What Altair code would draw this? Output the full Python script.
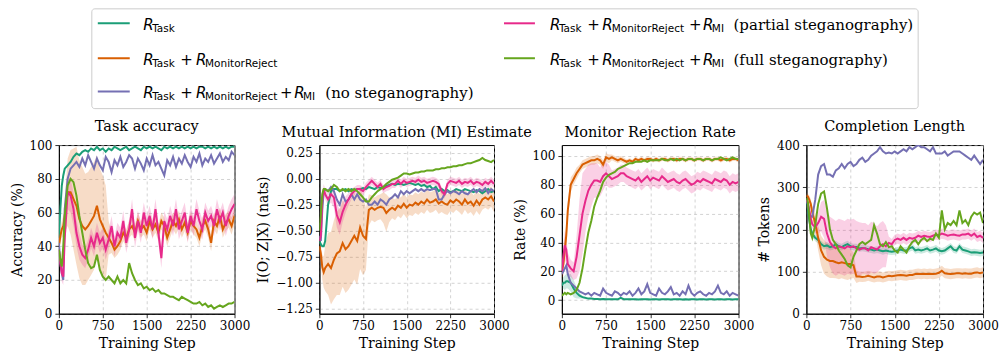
import altair as alt
import pandas as pd

# ---------------- data ----------------
STEPS = [0, 25, 50, 75] + list(range(100, 3001, 50))
X_TICKS = [0, 750, 1500, 2250, 3000]

SERIES = ["R_Task", "R_Task + R_MonitorReject", "R_Task + R_MonitorReject + R_MI (no steganography)",
          "R_Task + R_MonitorReject + R_MI (partial steganography)",
          "R_Task + R_MonitorReject + R_MI (full steganography)"]
COLORS = ["#1b9e77", "#d95f02", "#7570b3", "#e7298a", "#66a61e"]

PANEL_TITLES = ["Task accuracy", "Mutual Information (MI) Estimate", "Monitor Rejection Rate", "Completion Length"]
Y_TITLES = ["Accuracy (%)", "I(O; Z|X) (nats)", "Rate (%)", "# Tokens"]
X_TITLE = "Training Step"
Y_TICKS_ACC = [0, 20, 40, 60, 80, 100]
Y_TICKS_MI = [-1.25, -1.0, -0.75, -0.5, -0.25, 0.0, 0.25]
Y_TICKS_MON = [0, 20, 40, 60, 80, 100]
Y_TICKS_LEN = [0, 100, 200, 300, 400]

# ---- Task accuracy ----
ACC_TASK = [
    45, 62, 76, 82,
    86, 88, 90, 93, 95, 94, 96, 97, 96, 98,
    97, 99, 97, 98, 96, 98, 97, 99, 98, 97,
    98, 99, 97, 98, 99, 98, 97, 99, 98, 99,
    98, 99, 98, 97, 99, 98, 99, 98, 99, 98,
    99, 98, 99, 98, 99, 98, 99, 99, 98, 99,
    98, 99, 98, 99, 98, 99, 98, 99, 99]
ACC_MONITOR = [
    40, 46, 50, 52,
    58, 72, 72, 68, 64, 56, 52, 50, 52, 55,
    58, 64, 56, 52, 48, 45, 42, 38, 40, 43,
    48, 45, 50, 52, 48, 55, 50, 52, 48, 55,
    50, 53, 48, 55, 52, 45, 50, 55, 52, 56,
    50, 54, 48, 55, 52, 50, 45, 52, 55, 50,
    42, 55, 52, 58, 50, 54, 56, 52, 58]
ACC_NONE = [
    42, 30, 24, 20,
    62, 80, 86, 88, 90, 87, 92, 88, 94, 90,
    86, 92, 88, 85, 93, 90, 84, 91, 88, 93,
    87, 90, 94, 92, 86, 92, 89, 85, 92, 88,
    94, 88, 90, 86, 82, 91, 88, 93, 87, 92,
    89, 94, 90, 87, 93, 90, 95, 88, 92, 90,
    94, 89, 92, 95, 90, 93, 91, 96, 94]
ACC_PARTIAL = [
    38, 30, 24, 22,
    45, 72, 70, 62, 48, 40, 35, 33, 38, 45,
    40, 48, 42, 45, 38, 44, 52, 40, 48, 45,
    55, 42, 50, 62, 45, 55, 48, 60, 52, 58,
    50, 62, 48, 33, 55, 50, 58, 52, 62, 50,
    55, 60, 48, 58, 52, 62, 55, 50, 60, 55,
    58, 52, 62, 55, 60, 52, 58, 62, 65]
ACC_FULL = [
    38, 32, 28, 40,
    58, 76, 80, 78, 70, 58, 48, 38, 30, 27,
    28, 35, 26, 22, 20, 22, 20, 18, 22, 18,
    20, 18, 30, 24, 20, 17, 18, 15, 16, 14,
    15, 13, 14, 12, 12, 11, 10, 10, 9, 8,
    10, 9, 8, 7, 6, 6, 7, 5, 6, 4,
    5, 3, 4, 5, 4, 5, 6, 6, 7]
ACC_MONITOR_SPREAD = [
    3, 4, 5, 6,
    10, 20, 25, 30, 35, 35, 35, 33, 32, 32,
    32, 30, 30, 30, 28, 10, 6, 5, 5, 5,
    5, 5, 5, 5, 5, 5, 5, 5, 5, 5,
    5, 5, 5, 5, 5, 5, 5, 5, 5, 5,
    5, 5, 5, 5, 5, 5, 5, 5, 5, 5,
    5, 5, 5, 5, 5, 5, 5, 5, 5]
ACC_PARTIAL_SPREAD = [
    3, 4, 5, 5,
    8, 10, 10, 10, 8, 8, 6, 6, 6, 6,
    6, 6, 6, 6, 6, 6, 6, 6, 6, 6,
    6, 6, 6, 6, 6, 6, 6, 6, 6, 6,
    6, 6, 6, 6, 6, 6, 6, 6, 6, 6,
    6, 6, 6, 6, 6, 6, 6, 6, 6, 6,
    6, 6, 6, 6, 6, 6, 6, 6, 6]

# ---- Mutual information ----
MI_TASK = [
    -0.60, -0.63, -0.65, -0.65,
    -0.60, -0.25, -0.12, -0.10, -0.10, -0.12, -0.11, -0.10, -0.12, -0.10,
    -0.11, -0.10, -0.10, -0.09, -0.10, -0.08, -0.09, -0.10, -0.08, -0.09,
    -0.08, -0.07, -0.06, -0.05, -0.06, -0.05, -0.05, -0.06, -0.05, -0.04,
    -0.05, -0.06, -0.05, -0.07, -0.06, -0.08, -0.07, -0.10, -0.08, -0.12,
    -0.10, -0.12, -0.11, -0.13, -0.12, -0.10, -0.11, -0.12, -0.10, -0.11,
    -0.12, -0.13, -0.11, -0.12, -0.14, -0.12, -0.10, -0.13, -0.12]
MI_MONITOR = [
    -0.65, -0.72, -0.85, -0.90,
    -0.86, -0.82, -0.86, -0.78, -0.72, -0.70, -0.62, -0.68, -0.65, -0.60,
    -0.55, -0.60, -0.47, -0.55, -0.58, -0.30, -0.28, -0.30, -0.28, -0.27,
    -0.28, -0.33, -0.30, -0.28, -0.30, -0.26, -0.28, -0.24, -0.28, -0.25,
    -0.26, -0.23, -0.25, -0.22, -0.24, -0.20, -0.23, -0.22, -0.20, -0.24,
    -0.22, -0.24, -0.25, -0.21, -0.23, -0.20, -0.22, -0.25, -0.20, -0.24,
    -0.22, -0.26, -0.21, -0.25, -0.20, -0.18, -0.20, -0.17, -0.22]
MI_NONE = [
    -0.55, -0.60, -0.30, -0.12,
    -0.10, -0.12, -0.08, -0.12, -0.20, -0.25, -0.15, -0.22, -0.20, -0.15,
    -0.20, -0.15, -0.20, -0.22, -0.20, -0.25, -0.25, -0.22, -0.25, -0.20,
    -0.22, -0.25, -0.20, -0.18, -0.15, -0.18, -0.12, -0.15, -0.12, -0.14,
    -0.12, -0.10, -0.12, -0.10, -0.12, -0.10, -0.11, -0.10, -0.10, -0.20,
    -0.20, -0.15, -0.12, -0.14, -0.12, -0.13, -0.15, -0.12, -0.14, -0.15,
    -0.12, -0.10, -0.13, -0.10, -0.12, -0.09, -0.14, -0.10, -0.12]
MI_PARTIAL = [
    -0.60, -0.55, -0.20, -0.10,
    -0.15, -0.20, -0.15, -0.18, -0.35, -0.42, -0.32, -0.25, -0.20, -0.15,
    -0.12, -0.10, -0.10, -0.12, -0.08, -0.05, -0.02, -0.05, -0.08, -0.05,
    -0.10, -0.08, -0.07, -0.05, -0.05, -0.02, -0.05, -0.02, -0.04, -0.03,
    -0.02, -0.03, -0.01, -0.03, -0.02, -0.04, -0.03, -0.02, -0.03, -0.05,
    -0.12, -0.15, -0.05, -0.02, -0.03, -0.04, -0.02, -0.05, -0.03, -0.04,
    -0.02, -0.05, -0.03, -0.04, -0.06, -0.03, -0.05, -0.02, -0.05]
MI_FULL = [
    -0.50, -0.35, -0.15, -0.10,
    -0.10, -0.12, -0.10, -0.06, -0.08, -0.12, -0.10, -0.12, -0.10, -0.12,
    -0.10, -0.12, -0.15, -0.18, -0.22, -0.22, -0.18, -0.15, -0.12, -0.10,
    -0.08, -0.05, -0.03, -0.01, 0.00, 0.01, 0.03, 0.05, 0.05, 0.04,
    0.05, 0.06, 0.06, 0.07, 0.07, 0.08, 0.08, 0.08, 0.09, 0.09,
    0.10, 0.10, 0.11, 0.11, 0.12, 0.12, 0.13, 0.13, 0.14, 0.15,
    0.15, 0.16, 0.17, 0.18, 0.20, 0.18, 0.17, 0.16, 0.18]
MI_MONITOR_SPREAD = [
    0.05, 0.08, 0.12, 0.15,
    0.22, 0.30, 0.35, 0.38, 0.40, 0.42, 0.42, 0.42, 0.42, 0.42,
    0.42, 0.42, 0.40, 0.38, 0.30, 0.15, 0.12, 0.12, 0.12, 0.12,
    0.15, 0.18, 0.12, 0.10, 0.10, 0.10, 0.10, 0.10, 0.10, 0.10,
    0.10, 0.10, 0.10, 0.10, 0.10, 0.10, 0.10, 0.10, 0.10, 0.10,
    0.10, 0.10, 0.10, 0.10, 0.10, 0.10, 0.10, 0.10, 0.10, 0.10,
    0.10, 0.10, 0.10, 0.10, 0.10, 0.10, 0.10, 0.10, 0.10]
MI_PARTIAL_SPREAD = [
    0.02, 0.03, 0.05, 0.05,
    0.05, 0.06, 0.08, 0.10, 0.12, 0.12, 0.10, 0.08, 0.06, 0.05,
    0.04, 0.04, 0.04, 0.04, 0.04, 0.04, 0.04, 0.04, 0.04, 0.04,
    0.04, 0.04, 0.04, 0.04, 0.04, 0.04, 0.04, 0.04, 0.04, 0.04,
    0.04, 0.04, 0.04, 0.04, 0.04, 0.04, 0.04, 0.04, 0.04, 0.04,
    0.04, 0.04, 0.04, 0.04, 0.04, 0.04, 0.04, 0.04, 0.04, 0.04,
    0.04, 0.04, 0.04, 0.04, 0.04, 0.04, 0.04, 0.04, 0.04]

# ---- Monitor rejection rate ----
MON_TASK = [
    10, 12, 12, 13,
    13, 12, 8, 5, 3, 2, 1.5, 1, 1, 0.8,
    0.8, 0.6, 0.8, 0.5, 0.6, 0.5, 0.6, 0.5, 1.5, 0.6,
    0.5, 0.5, 0.6, 0.5, 0.4, 0.5, 0.5, 0.6, 0.4, 0.5,
    0.5, 0.4, 0.5, 0.6, 0.5, 0.4, 0.5, 0.5, 0.6, 0.4,
    0.5, 0.4, 0.5, 0.5, 0.4, 0.5, 0.6, 0.4, 0.5, 0.5,
    0.4, 0.5, 0.5, 0.4, 0.5, 0.5, 0.4, 0.5, 0.5]
MON_MONITOR = [
    20, 25, 35, 45,
    62, 80, 84, 88, 91, 94, 95, 96, 97, 97,
    98, 97, 94, 99, 98, 99, 98, 97, 98, 97,
    96, 97, 96, 98, 97, 98, 97, 98, 98, 97,
    98, 97, 98, 98, 97, 98, 98, 97, 98, 98,
    97, 98, 98, 97, 98, 98, 97, 98, 98, 97,
    98, 98, 97, 98, 98, 97, 98, 98, 97]
MON_NONE = [
    18, 20, 22, 24,
    18, 12, 10, 8, 6, 5, 4, 5, 3, 5,
    4, 3, 8, 5, 4, 3, 6, 5, 3, 5,
    4, 6, 3, 5, 8, 4, 6, 11, 5, 4,
    3, 8, 5, 4, 6, 9, 4, 5, 3, 6,
    4, 10, 5, 3, 5, 6, 4, 3, 5, 4,
    6, 10, 5, 4, 6, 3, 5, 4, 3]
MON_PARTIAL = [
    20, 30, 38, 35,
    25, 22, 20, 30, 45, 60, 69, 76, 80, 83,
    83, 82, 86, 88, 86, 84, 85, 86, 88, 88,
    86, 85, 84, 83, 85, 82, 84, 86, 83, 85,
    84, 83, 86, 84, 82, 83, 84, 82, 81, 83,
    84, 82, 80, 81, 83, 82, 84, 83, 82, 81,
    84, 83, 82, 84, 83, 80, 82, 81, 82]
MON_FULL = [
    3, 4, 5, 4,
    5, 4, 5, 7, 12, 22, 35, 47, 55, 65,
    71, 76, 82, 85, 87, 88, 89, 91, 92, 93,
    94, 95, 95, 96, 96, 96, 97, 96, 97, 97,
    97, 97, 98, 97, 97, 98, 97, 98, 97, 98,
    97, 98, 98, 97, 98, 98, 97, 98, 98, 97,
    98, 98, 99, 98, 97, 98, 99, 98, 98]
MON_TASK_SPREAD = [
    3, 4, 5, 5,
    5, 6, 6, 4, 2, 1, 1, 0.5, 0.5, 0.5,
    0.5, 0.5, 0.5, 0.5, 0.5, 0.5, 0.5, 0.5, 0.5, 0.5,
    0.5, 0.5, 0.5, 0.5, 0.5, 0.5, 0.5, 0.5, 0.5, 0.5,
    0.5, 0.5, 0.5, 0.5, 0.5, 0.5, 0.5, 0.5, 0.5, 0.5,
    0.5, 0.5, 0.5, 0.5, 0.5, 0.5, 0.5, 0.5, 0.5, 0.5,
    0.5, 0.5, 0.5, 0.5, 0.5, 0.5, 0.5, 0.5, 0.5]
MON_MONITOR_SPREAD = [
    5, 8, 8, 8,
    6, 5, 4, 4, 3, 3, 3, 3, 3, 3,
    3, 3, 3, 3, 3, 2, 2, 2, 2, 2,
    1.5, 1.5, 1.5, 1.5, 1.5, 1.5, 1.5, 1.5, 1.5, 1.5,
    1.5, 1.5, 1.5, 1.5, 1.5, 1.5, 1.5, 1.5, 1.5, 1.5,
    1.5, 1.5, 1.5, 1.5, 1.5, 1.5, 1.5, 1.5, 1.5, 1.5,
    1.5, 1.5, 1.5, 1.5, 1.5, 1.5, 1.5, 1.5, 1.5]
MON_PARTIAL_SPREAD = [
    5, 8, 10, 10,
    8, 6, 6, 15, 25, 28, 22, 18, 15, 12,
    12, 10, 10, 8, 8, 6, 6, 6, 6, 6,
    6, 6, 6, 6, 6, 6, 6, 6, 6, 6,
    6, 6, 6, 6, 6, 6, 6, 6, 6, 6,
    6, 6, 6, 6, 6, 6, 6, 6, 6, 6,
    6, 6, 6, 6, 6, 6, 6, 6, 6]

# ---- Completion length ----
LEN_TASK = [
    270, 250, 220, 200,
    190, 180, 175, 165, 160, 162, 158, 160, 165, 160,
    158, 162, 165, 160, 158, 158, 155, 156, 155, 153,
    152, 150, 152, 150, 148, 150, 148, 147, 148, 150,
    152, 150, 150, 155, 158, 150, 152, 150, 152, 155,
    150, 152, 155, 150, 148, 150, 155, 160, 152, 150,
    160, 152, 150, 148, 145, 146, 145, 144, 145]
LEN_MONITOR = [
    280, 278, 270, 260,
    240, 215, 180, 150, 135, 128, 125, 125, 122, 120,
    122, 120, 118, 118, 115, 88, 88, 87, 88, 90,
    88, 86, 88, 88, 86, 88, 90, 89, 90, 91,
    92, 91, 90, 92, 92, 94, 95, 94, 95, 94,
    95, 94, 95, 97, 102, 96, 95, 94, 95, 96,
    96, 95, 96, 95, 95, 97, 98, 96, 98]
LEN_NONE = [
    270, 260, 240, 230,
    230, 270, 330, 350, 355, 330, 330, 325, 340, 345,
    355, 345, 355, 360, 350, 355, 365, 370, 360, 365,
    375, 380, 385, 395, 385, 380, 382, 380, 385, 380,
    385, 390, 385, 395, 390, 395, 400, 395, 395, 390,
    385, 395, 380, 380, 380, 385, 375, 380, 385, 385,
    385, 380, 375, 370, 365, 375, 365, 355, 365]
LEN_PARTIAL = [
    270, 262, 245, 225,
    212, 205, 215, 230, 225, 190, 170, 160, 155, 160,
    158, 155, 160, 158, 160, 155, 152, 155, 155, 150,
    158, 155, 152, 160, 165, 160, 168, 165, 175, 178,
    175, 180, 175, 180, 178, 180, 185, 182, 185, 183,
    182, 185, 188, 186, 190, 188, 185, 187, 188, 186,
    185, 188, 188, 190, 185, 190, 182, 185, 180]
LEN_FULL = [
    275, 265, 230, 190,
    180, 210, 260, 285, 290, 250, 200, 175, 165, 150,
    140, 130, 115, 110, 135, 150, 165, 170, 165, 170,
    175, 210, 190, 165, 160, 170, 158, 160, 150, 145,
    160, 152, 145, 160, 170, 175, 165, 175, 180, 172,
    178, 175, 190, 180, 245, 200, 215, 210, 220, 210,
    245, 215, 222, 210, 230, 240, 235, 240, 215]
LEN_TASK_SPREAD = [
    5, 5, 6, 6,
    8, 8, 8, 8, 8, 8, 8, 8, 8, 8,
    8, 8, 8, 8, 8, 8, 8, 8, 8, 8,
    8, 8, 8, 8, 8, 8, 8, 8, 8, 8,
    8, 8, 8, 8, 8, 8, 8, 8, 8, 8,
    8, 8, 8, 8, 8, 8, 8, 8, 8, 8,
    8, 8, 8, 8, 8, 8, 8, 8, 8]
LEN_MONITOR_SPREAD = [
    5, 8, 10, 12,
    15, 25, 30, 35, 40, 40, 40, 40, 38, 38,
    38, 38, 38, 35, 30, 15, 12, 12, 12, 12,
    12, 12, 12, 12, 12, 12, 12, 12, 12, 12,
    12, 12, 12, 12, 12, 12, 12, 12, 12, 12,
    12, 12, 12, 12, 12, 12, 12, 12, 12, 12,
    12, 12, 12, 12, 12, 12, 12, 12, 12]
LEN_PARTIAL_SPREAD = [
    5, 5, 8, 10,
    10, 15, 25, 35, 45, 55, 60, 65, 65, 65,
    65, 65, 65, 65, 65, 65, 65, 60, 60, 60,
    60, 60, 55, 55, 55, 50, 15, 12, 12, 12,
    12, 12, 12, 12, 12, 12, 12, 12, 12, 12,
    12, 12, 12, 12, 12, 12, 12, 12, 12, 12,
    12, 12, 12, 12, 12, 12, 12, 12, 12]

# ---------------- helpers ----------------
SERIF = "DejaVu Serif"
SANS = "DejaVu Sans"


def check(name, arr):
    if len(arr) != len(STEPS):
        raise ValueError(f"{name} has {len(arr)} values, expected {len(STEPS)}")


def make_panel(title, ytitle, ydomain, yticks, yfmt, series_vals, spreads, width):
    xscale = alt.Scale(domain=[0, 3000], nice=False, zero=False)
    xaxis = alt.Axis(values=X_TICKS, title=X_TITLE, format="d", labelFlush=False, labelOverlap=False)
    yscale = alt.Scale(domain=ydomain, nice=False, zero=False)
    yaxis = alt.Axis(values=yticks, title=ytitle, format=yfmt, labelOverlap=False)
    layers = []
    for idx, spread in spreads:
        mean = series_vals[idx]
        check(f"{title}-{idx}", mean)
        check(f"{title}-{idx}-spread", spread)
        df = pd.DataFrame({"step": STEPS,
                           "lo": [m - s for m, s in zip(mean, spread)],
                           "hi": [m + s for m, s in zip(mean, spread)]})
        layers.append(
            alt.Chart(df).mark_area(color=COLORS[idx], opacity=0.22, clip=True).encode(
                x=alt.X("step:Q", scale=xscale, axis=xaxis),
                y=alt.Y("lo:Q", scale=yscale, axis=yaxis),
                y2="hi:Q"))
    for idx, vals in enumerate(series_vals):
        check(f"{title}-{idx}", vals)
        df = pd.DataFrame({"step": STEPS, "v": vals})
        layers.append(
            alt.Chart(df).mark_line(color=COLORS[idx], strokeWidth=2, clip=True).encode(
                x=alt.X("step:Q", scale=xscale, axis=xaxis),
                y=alt.Y("v:Q", scale=yscale, axis=yaxis)))
    return alt.layer(*layers).properties(
        width=width, height=169,
        title=alt.TitleParams(title, anchor="middle"))


p1 = make_panel(PANEL_TITLES[0], Y_TITLES[0], [0, 100], Y_TICKS_ACC, "d",
                [ACC_TASK, ACC_MONITOR, ACC_NONE, ACC_PARTIAL, ACC_FULL],
                [(1, ACC_MONITOR_SPREAD), (3, ACC_PARTIAL_SPREAD)], 176)
p2 = make_panel(PANEL_TITLES[1], Y_TITLES[1], [-1.30, 0.324], Y_TICKS_MI, ".2f",
                [MI_TASK, MI_MONITOR, MI_NONE, MI_PARTIAL, MI_FULL],
                [(1, MI_MONITOR_SPREAD), (3, MI_PARTIAL_SPREAD)], 175)
p3 = make_panel(PANEL_TITLES[2], Y_TITLES[2], [-9.5, 107.6], Y_TICKS_MON, "d",
                [MON_TASK, MON_MONITOR, MON_NONE, MON_PARTIAL, MON_FULL],
                [(0, MON_TASK_SPREAD), (1, MON_MONITOR_SPREAD), (3, MON_PARTIAL_SPREAD)], 177)
p4 = make_panel(PANEL_TITLES[3], Y_TITLES[3], [0, 400], Y_TICKS_LEN, "d",
                [LEN_TASK, LEN_MONITOR, LEN_NONE, LEN_PARTIAL, LEN_FULL],
                [(0, LEN_TASK_SPREAD), (1, LEN_MONITOR_SPREAD), (3, LEN_PARTIAL_SPREAD)], 177)

# ---------------- legend (built by hand, with subscripts) ----------------
LEG_W, LEG_H = 927, 101
ORG_X, ORG_Y = 57, 7
ROW_BASE = [28.3, 63.3, 96.7]
LINE_X = {"L": (96, 128), "R": (503, 534)}
STYLE = {
    "ri": dict(font=SANS, fontStyle="italic", fontSize=15),
    "sub": dict(font=SANS, fontSize=10.5),
    "op": dict(font=SANS, fontSize=15),
    "serif": dict(font=SERIF, fontSize=15),
}
LEFT_BASE = [("R", "ri", 141.5), ("Task", "sub", 150.5)]
LEFT_MON = [("+", "op", 178.5), ("R", "ri", 194.5), ("MonitorReject", "sub", 203.5)]
LEFT_MI = [("+", "op", 278.5), ("R", "ri", 292.8), ("MI", "sub", 301.5)]
RIGHT_ALL = [("R", "ri", 549), ("Task", "sub", 558), ("+", "op", 586.5), ("R", "ri", 601.5),
             ("MonitorReject", "sub", 611), ("+", "op", 688.5), ("R", "ri", 702.5), ("MI", "sub", 711.3)]
ENTRIES = [
    (0, "L", 0, LEFT_BASE),
    (1, "L", 1, LEFT_BASE + LEFT_MON),
    (2, "L", 2, LEFT_BASE + LEFT_MON + LEFT_MI + [("(no steganography)", "serif", 324)]),
    (3, "R", 0, RIGHT_ALL + [("(partial steganography)", "serif", 733)]),
    (4, "R", 1, RIGHT_ALL + [("(full steganography)", "serif", 733)]),
]

line_rows, text_rows = [], []
for sidx, col, row, pieces in ENTRIES:
    base = ROW_BASE[row] - ORG_Y
    x1, x2 = LINE_X[col]
    line_rows.append({"x1": x1 - ORG_X, "x2": x2 - ORG_X, "y": base - 6.3, "c": COLORS[sidx]})
    for txt, sty, xa in pieces:
        text_rows.append({"x": xa - ORG_X, "y": base + (2.6 if sty == "sub" else 0), "t": txt, "s": sty})

lx = alt.Scale(domain=[0, LEG_W], nice=False, zero=False)
ly = alt.Scale(domain=[0, LEG_H], nice=False, zero=False, reverse=True)

box = alt.Chart(pd.DataFrame({"a": [0]})).mark_rect(
    fill="white", stroke="#cccccc", strokeWidth=1, cornerRadius=3).encode(
    x=alt.value(90 - ORG_X), x2=alt.value(918 - ORG_X), y=alt.value(0.5), y2=alt.value(LEG_H - 0.5))
samples = alt.Chart(pd.DataFrame(line_rows)).mark_rule(strokeWidth=2).encode(
    x=alt.X("x1:Q", scale=lx, axis=None), x2="x2:Q",
    y=alt.Y("y:Q", scale=ly, axis=None),
    color=alt.Color("c:N", scale=None))
tdf = pd.DataFrame(text_rows)
text_layers = []
for sty, props in STYLE.items():
    text_layers.append(
        alt.Chart(tdf[tdf["s"] == sty]).mark_text(
            align="left", baseline="alphabetic", color="black", **props).encode(
            x=alt.X("x:Q", scale=lx, axis=None),
            y=alt.Y("y:Q", scale=ly, axis=None),
            text="t:N"))
legend = alt.layer(box, samples, *text_layers).properties(
    width=LEG_W, height=LEG_H, view=alt.ViewBackground(stroke="transparent"))

row = alt.hconcat(p1, alt.hconcat(p2, p3, p4, spacing=68, bounds="flush"),
                  spacing=85, bounds="flush")

chart = alt.vconcat(legend, row, spacing=36, bounds="flush").properties(
    padding={"left": 9, "top": 7, "right": 0, "bottom": 0},
    background="white",
).configure_view(
    stroke="black", strokeWidth=1
).configure_axis(
    labelFont=SERIF, labelFontSize=12, labelColor="black",
    titleFont=SERIF, titleFontSize=14, titleFontWeight="normal", titleColor="black",
    domainColor="black", domainWidth=1, tickColor="black", tickSize=4, tickWidth=0.8,
    gridColor="#b0b0b0", gridDash=[3, 3], gridOpacity=0.7, gridWidth=0.8,
    labelPadding=3, titlePadding=5,
).configure_title(
    font=SERIF, fontSize=14.5, fontWeight="normal", color="black", offset=5
)

chart.save("out.html", embed_options={"renderer": "svg", "actions": False})
